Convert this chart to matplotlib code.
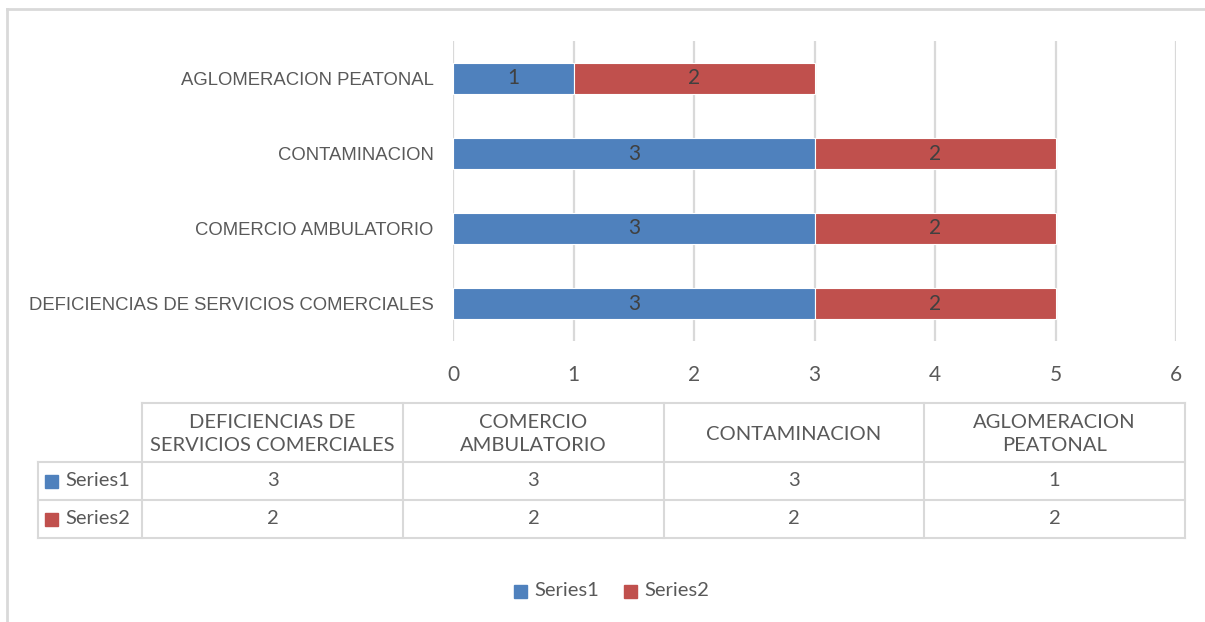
import matplotlib
matplotlib.use("Agg")
import matplotlib.pyplot as plt
from matplotlib.lines import Line2D
from matplotlib.patches import Rectangle

# ---- data ----
categories = ["DEFICIENCIAS DE SERVICIOS COMERCIALES", "COMERCIO AMBULATORIO",
              "CONTAMINACION", "AGLOMERACION PEATONAL"]
table_headers = ["DEFICIENCIAS DE\nSERVICIOS COMERCIALES", "COMERCIO\nAMBULATORIO",
                 "CONTAMINACION", "AGLOMERACION\nPEATONAL"]
series_names = ["Series1", "Series2"]
series1 = [3, 3, 3, 1]
series2 = [2, 2, 2, 2]
x_ticks = [0, 1, 2, 3, 4, 5, 6]

colors = ["#4F81BD", "#C0504D"]
txt = "#595959"
lbl = "#404040"
grid_c = "#D9D9D9"
W, H = 1205, 622
CAL = ["Lato", "DejaVu Sans"]
ARI = ["Liberation Sans", "DejaVu Sans"]

fig = plt.figure(figsize=(W / 100, H / 100), dpi=100)
fig.patch.set_facecolor("white")

def fx(x):
    return x / W

def fy(y):
    return 1 - y / H

# axes
ax = fig.add_axes([fx(453), fy(341), fx(1176) - fx(453), fy(41) - fy(341)])
ypos = list(range(len(categories)))
ax.barh(ypos, series1, height=0.41, color=colors[0], edgecolor="white", linewidth=0.8, zorder=3)
ax.barh(ypos, series2, left=series1, height=0.41, color=colors[1], edgecolor="white", linewidth=0.8, zorder=3)
for i in ypos:
    ax.text(series1[i] / 2, i, str(series1[i]), ha="center", va="center",
            color=lbl, fontsize=15, family=CAL, zorder=4)
    ax.text(series1[i] + series2[i] / 2, i, str(series2[i]), ha="center", va="center",
            color=lbl, fontsize=15, family=CAL, zorder=4)
ax.set_xlim(0, 6)
ax.set_ylim(-0.5, len(categories) - 0.5)
ax.set_xticks(x_ticks)
ax.set_xticklabels([str(t) for t in x_ticks], family=CAL, fontsize=15, color=txt)
ax.set_yticks(ypos)
ax.set_yticklabels(categories, family=ARI, fontsize=13.3, color=txt)
ax.tick_params(axis="both", length=0)
ax.tick_params(axis="y", pad=14)
ax.tick_params(axis="x", pad=17)
ax.grid(axis="x", color=grid_c, linewidth=1.6, zorder=0)
ax.set_axisbelow(True)
for s in ax.spines.values():
    s.set_visible(False)

# figure border
def hline(y, x0, x1, lw=1.5, c=grid_c):
    fig.add_artist(Line2D([fx(x0), fx(x1)], [fy(y), fy(y)], color=c, linewidth=lw, transform=fig.transFigure))

def vline(x, y0, y1, lw=1.5, c=grid_c):
    fig.add_artist(Line2D([fx(x), fx(x)], [fy(y0), fy(y1)], color=c, linewidth=lw, transform=fig.transFigure))

hline(9, 7, W, lw=2)
vline(7, 9, H, lw=2)

# data table
col_x = [142, 403, 664, 924, 1185]
row_y = [403, 462, 500, 538]
left_x = 38
hline(row_y[0], col_x[0], col_x[-1])
for y in row_y[1:]:
    hline(y, left_x, col_x[-1])
vline(left_x, row_y[1], row_y[-1])
for x in col_x:
    vline(x, row_y[0], row_y[-1])

for j, h in enumerate(table_headers):
    cx = (col_x[j] + col_x[j + 1]) / 2
    fig.text(fx(cx), fy((row_y[0] + row_y[1]) / 2 + 1.5), h, ha="center", va="center",
             family=CAL, fontsize=14.5, color=txt, linespacing=1.45)

for r, (name, vals) in enumerate(zip(series_names, [series1, series2])):
    cy = (row_y[r + 1] + row_y[r + 2]) / 2
    fig.add_artist(Rectangle((fx(45), fy(cy + 6.5)), fx(13), 13 / H, color=colors[r],
                             transform=fig.transFigure))
    fig.text(fx(65), fy(cy), name, ha="left", va="center", family=CAL, fontsize=14.5, color=txt)
    for j, v in enumerate(vals):
        cx = (col_x[j] + col_x[j + 1]) / 2
        fig.text(fx(cx), fy(cy), str(v), ha="center", va="center", family=CAL, fontsize=14.5, color=txt)

# legend
leg_x = [514, 624]
for k, name in enumerate(series_names):
    fig.add_artist(Rectangle((fx(leg_x[k]), fy(598)), fx(13), 13 / H, color=colors[k],
                             transform=fig.transFigure))
    fig.text(fx(leg_x[k] + 20), fy(591), name, ha="left", va="center", family=CAL, fontsize=14.5, color=txt)

fig.savefig("out.png", dpi=100, facecolor="white")
